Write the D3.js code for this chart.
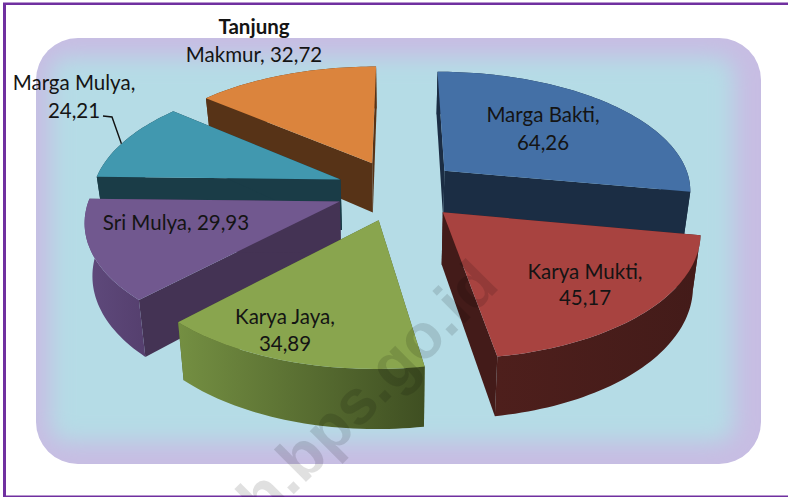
<!DOCTYPE html>
<html>
<head>
<meta charset="utf-8">
<script src="https://cdn.jsdelivr.net/npm/d3@7"></script>
<style>
html,body{margin:0;padding:0;background:#fff;overflow:hidden}
svg{display:block}
text{font-family:Lato,"Open Sans",sans-serif}
</style>
</head>
<body>
<svg id="chart" width="788" height="497"></svg>
<script>
const categories = ["Marga Bakti","Karya Mukti","Karya Jaya","Sri Mulya","Marga Mulya","Tanjung Makmur"];
const values = [64.26,45.17,34.89,29.93,24.21,32.72];
const valueLabels = ["64,26","45,17","34,89","29,93","24,21","32,72"];
const topColors = ["#4470A6","#A84340","#89A54E","#71588F","#4198AF","#DB843D"];
const wallLight = ["#1B2D44","#4E1F1C","#748F42","#5F4A7C","#1A3C47","#573317"];
const wallDark  = ["#1B2D44","#431B19","#3F4F22","#553F6E","#1A3C47","#573317"];
const wallRadial= ["#1B2D44","#431B19","#4A5B29","#443354","#1A3C47","#573317"];

const W = 788, H = 497;
const cfg = {cx:398, cy:190, rx:248, ry:122.5, persp:0.145, explode:0.25, depth:51, taper:0.975, rot:0};

const svg = d3.select("#chart");
const defs = svg.append("defs");
const x = d3.scaleLinear().domain([-1,1]).range([cfg.cx-cfg.rx, cfg.cx+cfg.rx]);
const y = d3.scaleLinear().domain([-1,1]).range([cfg.cy-cfg.ry, cfg.cy+cfg.ry]);

// frame
svg.append("rect").attr("x",3).attr("y",3).attr("width",3).attr("height",H-3).attr("fill","#7030A0");
svg.append("rect").attr("x",3).attr("y",2.5).attr("width",W-3).attr("height",2.5).attr("fill","#7030A0");
svg.append("rect").attr("x",3).attr("y",H-1.5).attr("width",W-3).attr("height",1.5).attr("fill","#7030A0");

// plot background: lavender rounded panel with a blurred blue core
defs.append("clipPath").attr("id","panelClip").append("rect")
  .attr("x",36).attr("y",38).attr("width",725).attr("height",426).attr("rx",42).attr("ry",42);
defs.append("filter").attr("id","soft").attr("x","-10%").attr("y","-10%").attr("width","120%").attr("height","120%")
  .append("feGaussianBlur").attr("stdDeviation",11);
const panel = svg.append("g").attr("clip-path","url(#panelClip)");
panel.append("rect").attr("x",36).attr("y",38).attr("width",725).attr("height",426).attr("fill","#C7BDE3");
panel.append("rect").attr("x",50).attr("y",57).attr("width",684).attr("height",385).attr("rx",18)
  .attr("fill","#B5DCE6").attr("filter","url(#soft)");

// exploded 3D pie
const pie = d3.pie().sort(null).value(d=>d)
  .startAngle(cfg.rot).endAngle(cfg.rot+2*Math.PI);
const arcs = pie(values);
const line = d3.line();

function project(a,i,r){
  const m=(arcs[i].startAngle+arcs[i].endAngle)/2;
  const wx=cfg.explode*Math.sin(m)+r*Math.sin(a);
  const wz=-cfg.explode*Math.cos(m)-r*Math.cos(a);
  const s=1+cfg.persp*wz;
  return {X:x(wx*s),Y:y(wz*s),s};
}
function pTop(a,i,r){const p=project(a,i,r);return [p.X,p.Y];}
function pBot(a,i,r){
  const p=project(a,i,r);
  return [cfg.cx+(p.X-cfg.cx)*cfg.taper, p.Y+cfg.depth*p.s];
}
function angles(d){
  const n=Math.max(8,Math.ceil((d.endAngle-d.startAngle)*40));
  return d3.range(n+1).map(k=>d.startAngle+(d.endAngle-d.startAngle)*k/n);
}

// back-to-front order
const order = [5,0,4,3,2,1];
const g = svg.append("g");
order.forEach(i=>{
  const d=arcs[i], as=angles(d);
  const grad=defs.append("linearGradient").attr("id","wall"+i).attr("gradientUnits","objectBoundingBox");
  grad.append("stop").attr("offset","0%").attr("stop-color",wallLight[i]);
  grad.append("stop").attr("offset","100%").attr("stop-color",wallDark[i]);
  const slice=g.append("g").attr("class","slice");
  // radial walls
  [d.startAngle,d.endAngle].forEach(a=>{
    slice.append("path")
      .attr("d",line([pTop(a,i,0),pTop(a,i,1),pBot(a,i,1),pBot(a,i,0)])+"Z")
      .attr("fill",wallRadial[i]);
  });
  // outer wall
  const outer=as.map(a=>pTop(a,i,1)).concat(as.slice().reverse().map(a=>pBot(a,i,1)));
  slice.append("path").attr("d",line(outer)+"Z").attr("fill",`url(#wall${i})`);
  // top face
  const face=[pTop(d.startAngle,i,0)].concat(as.map(a=>pTop(a,i,1)));
  slice.append("path").attr("d",line(face)+"Z").attr("fill",topColors[i]);
});

// leader line of Marga Mulya
const mmEdge=pTop(arcs[4].startAngle+(arcs[4].endAngle-arcs[4].startAngle)*0.45,4,1);
svg.append("path").attr("d",line([[103,116],[112,117],mmEdge]))
  .attr("fill","none").attr("stroke","#111").attr("stroke-width",1.4);

// labels
const labelLayout = [
  {i:0,x:543,lines:[[categories[0]+",",122],[valueLabels[0],150]]},
  {i:1,x:585,lines:[[categories[1]+",",279],[valueLabels[1],305]]},
  {i:2,x:285,lines:[[categories[2]+",",324],[valueLabels[2],351]]},
  {i:3,x:176,lines:[[categories[3]+", "+valueLabels[3],230]]},
  {i:4,x:74,lines:[[categories[4]+",",90],[valueLabels[4],118]]},
  {i:5,x:254,lines:[["Tanjung",34,true],["Makmur, "+valueLabels[5],62]]}
];
const lab=svg.append("g").attr("text-anchor","middle").attr("font-size",20.5).attr("fill","#141414");
labelLayout.forEach(l=>l.lines.forEach(t=>{
  lab.append("text").attr("x",l.x).attr("y",t[1]).text(t[0])
    .attr("font-weight",t[2]?"700":"400");
}));

// watermark
svg.append("text").attr("transform","translate(501,287) rotate(-45)")
  .attr("text-anchor","end").attr("font-size",63).attr("font-weight",700)
  .style("font-family","'Liberation Sans',Arial,sans-serif")
  .attr("fill","#000").attr("fill-opacity",0.12).text("h.bps.go.id");
</script>
</body>
</html>
